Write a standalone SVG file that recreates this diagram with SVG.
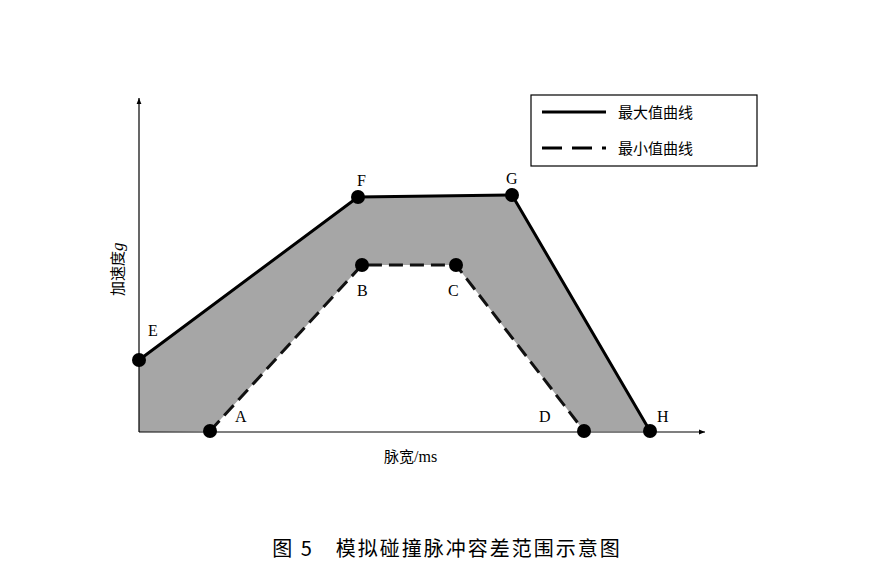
<svg xmlns="http://www.w3.org/2000/svg" width="894" height="588" viewBox="0 0 894 588">
<style>
.lbl{font-family:"Liberation Serif","Noto Sans CJK SC",serif;font-size:16px;fill:#000}
.cn{font-family:"Noto Sans CJK SC",sans-serif;font-size:15px;fill:#000}
.dot{fill:#000}
</style>
<defs><marker id="ar" viewBox="0 0 10 10" refX="10" refY="5" markerWidth="14" markerHeight="6" markerUnits="userSpaceOnUse" orient="auto"><path d="M0,1 L10,5 L0,9 Z" fill="#000"/></marker></defs>
<rect width="894" height="588" fill="#fff"/>
<polygon points="139,432 139,360 358,197 512,195 650,431 584,431 456,265 362,265 210,431" fill="#a6a6a6"/>
<g id="connectors" fill="none" stroke="#000">
<line x1="139" y1="432" x2="139" y2="98" stroke-width="1.2" marker-end="url(#ar)"/>
<line x1="139" y1="432" x2="705" y2="432" stroke-width="1.2" marker-end="url(#ar)"/>
<polyline points="139,360 358,197 512,195 650,431" stroke-width="3"/>
<polyline points="210,431 362,265 456,265 584,431" stroke-width="3" stroke-dasharray="14,7" stroke="#111"/>
</g>
<g id="E"><circle class="dot" cx="139" cy="360" r="7"/><text class="lbl" x="148" y="336">E</text></g>
<g id="F"><circle class="dot" cx="358" cy="197" r="7"/><text class="lbl" x="357" y="186">F</text></g>
<g id="G"><circle class="dot" cx="512" cy="195" r="7"/><text class="lbl" x="506" y="184">G</text></g>
<g id="H"><circle class="dot" cx="650" cy="431" r="7"/><text class="lbl" x="657" y="422">H</text></g>
<g id="A"><circle class="dot" cx="210" cy="431" r="7"/><text class="lbl" x="235" y="422">A</text></g>
<g id="B"><circle class="dot" cx="362" cy="265" r="7"/><text class="lbl" x="357" y="296">B</text></g>
<g id="C"><circle class="dot" cx="456" cy="265" r="7"/><text class="lbl" x="448" y="296">C</text></g>
<g id="D"><circle class="dot" cx="584" cy="431" r="7"/><text class="lbl" x="539" y="422">D</text></g>
<text class="cn" transform="translate(123,296) rotate(-90)">加速度<tspan font-family="Liberation Serif" font-style="italic" font-size="17">g</tspan></text>
<text class="cn" x="384" y="462">脉宽<tspan font-family="Liberation Serif" font-size="16">/ms</tspan></text>
<g id="legend">
<rect x="531" y="95" width="226" height="71" fill="#fff" stroke="#000" stroke-width="1.2"/>
<line x1="542" y1="112" x2="606" y2="112" stroke="#000" stroke-width="3"/>
<line x1="542" y1="148" x2="606" y2="148" stroke="#000" stroke-width="3" stroke-dasharray="20,10"/>
<text class="cn" x="618" y="118">最大值曲线</text>
<text class="cn" x="618" y="154">最小值曲线</text>
</g>
<text x="447" y="556" text-anchor="middle" font-family="Noto Sans CJK SC,sans-serif" font-size="20" letter-spacing="2">图 5　模拟碰撞脉冲容差范围示意图</text>
</svg>
